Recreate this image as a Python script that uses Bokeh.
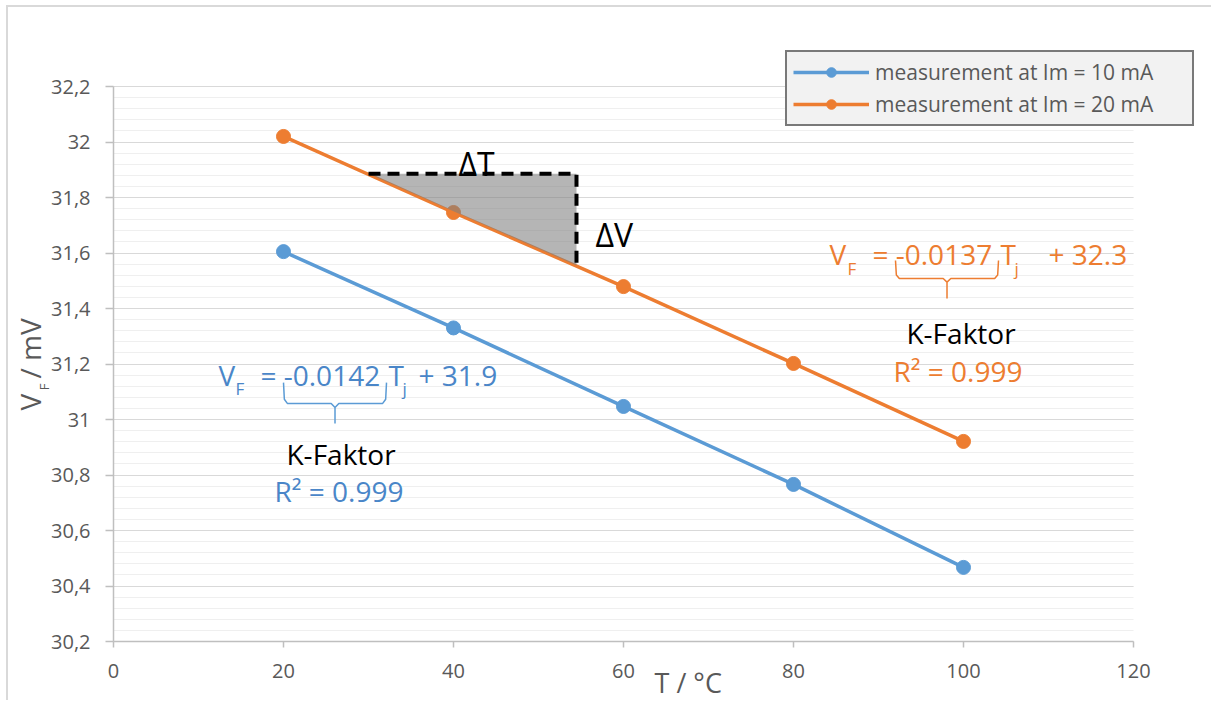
import numpy as np
from bokeh.plotting import figure
from bokeh.models import Range1d, FixedTicker, Label, Legend, LegendItem
from bokeh.embed import file_html
from bokeh.resources import INLINE

# ---------------- data ----------------
temps = [20, 40, 60, 80, 100]
vf_10mA = [31.605, 31.33, 31.047, 30.766, 30.467]
vf_20mA = [32.02, 31.746, 31.479, 31.202, 30.921]
series_names = ["measurement at Im = 10 mA", "measurement at Im = 20 mA"]

x_ticks = [0, 20, 40, 60, 80, 100, 120]
y_ticks = [30.2, 30.4, 30.6, 30.8, 31.0, 31.2, 31.4, 31.6, 31.8, 32.0, 32.2]
y_tick_labels = ["30,2", "30,4", "30,6", "30,8", "31", "31,2", "31,4", "31,6", "31,8", "32", "32,2"]

BLUE = "#5B9BD5"
BLUE_TXT = "#4A86C8"
ORANGE = "#ED7D31"
GREY_TXT = "#595959"
FONT = "Open Sans"

# The frame covers the whole canvas; axes are pinned at x=0 / y=30.2
p = figure(width=1205, height=695, output_backend="svg", toolbar_location=None,
           x_range=Range1d(-12.353, 129.412), y_range=Range1d(29.9802, 32.4847),
           min_border=0, min_border_left=0, min_border_right=0,
           min_border_top=0, min_border_bottom=0)
p.styles = {"margin-left": "6px", "margin-top": "5px",
            "border-left": "2px solid #d9d9d9", "border-top": "2px solid #d9d9d9"}
p.outline_line_color = None
p.background_fill_color = "white"
p.border_fill_color = "white"

# axes
p.xaxis.ticker = FixedTicker(ticks=x_ticks, minor_ticks=[])
minor = list(np.round(np.arange(30.2, 32.2001, 0.04), 2))
p.yaxis.ticker = FixedTicker(ticks=y_ticks, minor_ticks=minor)
p.yaxis.major_label_overrides = {t: s for t, s in zip(y_ticks, y_tick_labels)}
p.xaxis.fixed_location = 30.2
p.yaxis.fixed_location = 0
p.xaxis.bounds = (0, 120)
p.yaxis.bounds = (30.2, 32.2)
for ax in (p.xaxis[0], p.yaxis[0]):
    ax.axis_line_color = "#bfbfbf"
    ax.axis_line_width = 1.5
    ax.major_tick_line_color = "#bfbfbf"
    ax.major_tick_line_width = 1.5
    ax.major_tick_in = 0
    ax.minor_tick_in = 0
    ax.minor_tick_out = 0
    ax.major_label_text_font = FONT
    ax.major_label_text_font_size = "20px"
    ax.major_label_text_color = GREY_TXT
p.xaxis.major_tick_out = 6
p.xaxis.major_label_standoff = 16
p.yaxis.major_tick_out = 8
p.yaxis.major_label_standoff = 15

p.xgrid.visible = False
p.ygrid.grid_line_color = "#d9d9d9"
p.ygrid.grid_line_width = 1.2
p.ygrid.minor_grid_line_color = "#efefef"
p.ygrid.minor_grid_line_width = 1.2
p.ygrid.bounds = (30.2, 32.2)
p.ygrid.cross_bounds = (0, 120)

# series
l1 = p.line(temps, vf_10mA, line_color=BLUE, line_width=3.5)
s1 = p.scatter(temps, vf_10mA, size=14, fill_color=BLUE, line_color=BLUE)
l2 = p.line(temps, vf_20mA, line_color=ORANGE, line_width=3.5)
s2 = p.scatter(temps, vf_20mA, size=14, fill_color=ORANGE, line_color=ORANGE)

# slope triangle annotation
tri_x = [30.0, 54.47, 54.47]
tri_y = [31.886, 31.886, 31.555]
p.patch(tri_x, tri_y, fill_color="#7f7f7f", fill_alpha=0.58, line_color=None)
p.line(tri_x, tri_y, line_color="black", line_width=4, line_dash="12 7")


def brace(x0, x1, y_top, y_bar, y_tip):
    xm = (x0 + x1) / 2
    dx = 0.45
    dy = (y_top - y_bar) * 0.2
    xs = [x0, x0 + 0.1, x0 + dx, xm - dx, xm, xm, xm, xm + dx, x1 - dx, x1 - 0.1, x1]
    ys = [y_top, y_bar + dy, y_bar, y_bar, y_bar - dy, y_tip, y_bar - dy, y_bar, y_bar, y_bar + dy, y_top]
    return xs, ys


bx, by = brace(20.0, 32.12, 31.133, 31.058, 30.986)
p.line(bx, by, line_color=BLUE, line_width=1.5)
ox, oy = brace(92.0, 104.12, 31.573, 31.508, 31.436)
p.line(ox, oy, line_color=ORANGE, line_width=1.5)


def lab(x, y, text, color, size="28px", angle=0.0):
    p.add_layout(Label(x=x, y=y, text=text, text_color=color, text_font=FONT,
                       text_font_size=size, text_align="left", text_baseline="middle",
                       angle=angle))


# blue equation
lab(12.35, 31.162, "V", BLUE_TXT)
lab(14.35, 31.112, "F", BLUE_TXT, "17px")
lab(17.29, 31.162, "= -0.0142", BLUE_TXT)
lab(32.35, 31.162, "T", BLUE_TXT)
lab(34.0, 31.112, "j", BLUE_TXT, "17px")
lab(35.88, 31.162, "+ 31.9", BLUE_TXT)
lab(20.35, 30.877, "K-Faktor", "black")
lab(18.94, 30.744, "R² = 0.999", BLUE_TXT)

# orange equation
lab(84.24, 31.598, "V", ORANGE)
lab(86.35, 31.545, "F", ORANGE, "17px")
lab(89.29, 31.598, "= -0.0137", ORANGE)
lab(104.35, 31.598, "T", ORANGE)
lab(106.0, 31.545, "j", ORANGE, "17px")
lab(110.0, 31.598, "+ 32.3", ORANGE)
lab(93.29, 31.313, "K-Faktor", "black")
lab(91.76, 31.173, "R² = 0.999", ORANGE)

# delta labels
lab(40.59, 31.921, "ΔT", "black", "32px")
lab(56.71, 31.668, "ΔV", "black", "32px")

# axis titles
lab(63.65, 30.053, "T /  °C", GREY_TXT, "27px")
lab(-9.765, 31.032, "V", GREY_TXT, "28px", np.pi / 2)
lab(-8.235, 31.105, "F", GREY_TXT, "13px", np.pi / 2)
lab(-9.765, 31.148, "/ mV", GREY_TXT, "28px", np.pi / 2)

# legend
legend = Legend(items=[LegendItem(label=series_names[0], renderers=[l1, s1]),
                       LegendItem(label=series_names[1], renderers=[l2, s2])],
                location=(777, 576), orientation="vertical",
                border_line_color="black", border_line_width=2,
                background_fill_color="#f2f2f2", background_fill_alpha=1.0,
                label_text_font=FONT, label_text_font_size="21px", label_text_color=GREY_TXT,
                glyph_width=76, glyph_height=24, label_height=24, label_width=311,
                padding=6, spacing=4, label_standoff=6, margin=0)
p.add_layout(legend)

open("out.html", "w").write(file_html(p, INLINE))
